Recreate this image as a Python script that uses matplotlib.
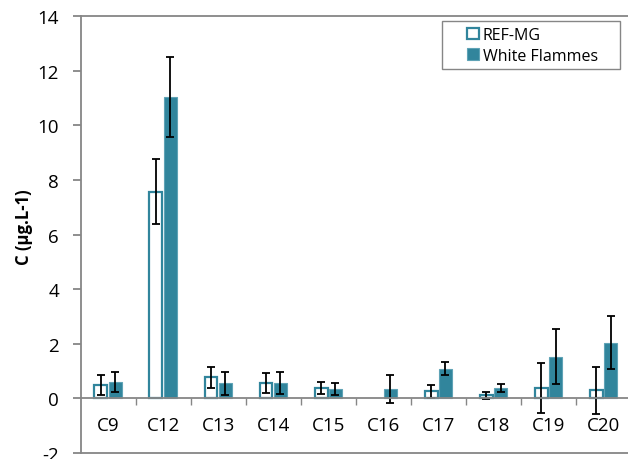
import numpy as np
import matplotlib.pyplot as plt
from matplotlib.patches import Rectangle
from matplotlib.ticker import FixedLocator

plt.rcParams['font.family'] = ['Open Sans', 'DejaVu Sans']
plt.rcParams['axes.unicode_minus'] = False

categories = ["C9", "C12", "C13", "C14", "C15", "C16", "C17", "C18", "C19", "C20"]
ref_mg = [0.50, 7.58, 0.77, 0.56, 0.37, 0.00, 0.26, 0.11, 0.38, 0.29]
ref_mg_err = [0.36, 1.18, 0.38, 0.37, 0.22, 0.00, 0.23, 0.13, 0.93, 0.86]
white_flammes = [0.59, 11.04, 0.55, 0.56, 0.34, 0.35, 1.09, 0.38, 1.53, 2.04]
white_flammes_err = [0.37, 1.46, 0.41, 0.39, 0.23, 0.52, 0.23, 0.13, 1.00, 0.98]

teal = "#31859c"
axis_grey = "#868686"

W, H = 628, 460
fig = plt.figure(figsize=(W / 100, H / 100), dpi=100)
ax = fig.add_axes([80.5 / W, 1 - 454 / H, 550.5 / W, (454 - 17.3) / H])

x = np.arange(len(categories))
w = 0.235
off = 0.13
err_kw = dict(ecolor="black", elinewidth=1.3, capsize=3, capthick=1.3)

# a zero value is left out rather than drawn as a flat bar
ref_plot = np.where(np.array(ref_mg) > 0, ref_mg, np.nan)
ref_err_plot = np.where(np.array(ref_mg_err) > 0, ref_mg_err, np.nan)

ax.bar(x - off, ref_plot, w, yerr=ref_err_plot, color="white", edgecolor=teal,
       linewidth=1.6, label="REF-MG", error_kw=err_kw, zorder=2)
ax.bar(x + off, white_flammes, w, yerr=white_flammes_err, color=teal,
       edgecolor="#5fa3b6", linewidth=0.8, label="White Flammes",
       error_kw=err_kw, zorder=2)

ax.set_xlim(-0.5, len(categories) - 0.5)
ax.set_ylim(-2, 14)
ax.set_yticks(np.arange(-2, 15, 2))

# category axis sits on y = 0, limits drawn as lines at -2 and 14
ax.spines["bottom"].set_position(("data", 0))
for side in ["left", "bottom", "top"]:
    ax.spines[side].set_color(axis_grey)
    ax.spines[side].set_linewidth(1.3)
ax.spines["right"].set_visible(False)
ax.axhline(-2, color=axis_grey, linewidth=1.3, clip_on=False)

ax.set_xticks(x)
ax.set_xticklabels(categories)
ax.xaxis.set_minor_locator(FixedLocator(np.arange(0.5, len(categories) - 1, 1)))
ax.tick_params(axis="x", which="major", length=0, pad=13, labelsize=13.5)
ax.tick_params(axis="x", which="minor", length=5, width=1, color=axis_grey,
               direction="out")
ax.tick_params(axis="y", length=6, width=1.3, color=axis_grey, labelsize=13.5,
               pad=9.5)

ax.set_ylabel("C (µg.L-1)", fontsize=12, fontweight="bold")
ax.yaxis.set_label_coords(-0.087, 0.52)

# legend box drawn separately so it can be wider than its entries
fig.add_artist(Rectangle((442 / W, 1 - 70 / H), 178 / W, 48 / H,
                         transform=fig.transFigure, facecolor="white",
                         edgecolor=axis_grey, linewidth=1, zorder=4))
leg = fig.legend(loc="upper left", bbox_to_anchor=(467 / W, 1 - 28 / H),
                 fontsize=11.5, frameon=False, handlelength=0.75,
                 handleheight=0.75, handletextpad=0.25, borderpad=0,
                 labelspacing=0.3, borderaxespad=0)
leg.set_zorder(5)

plt.savefig("out.png", dpi=100)
